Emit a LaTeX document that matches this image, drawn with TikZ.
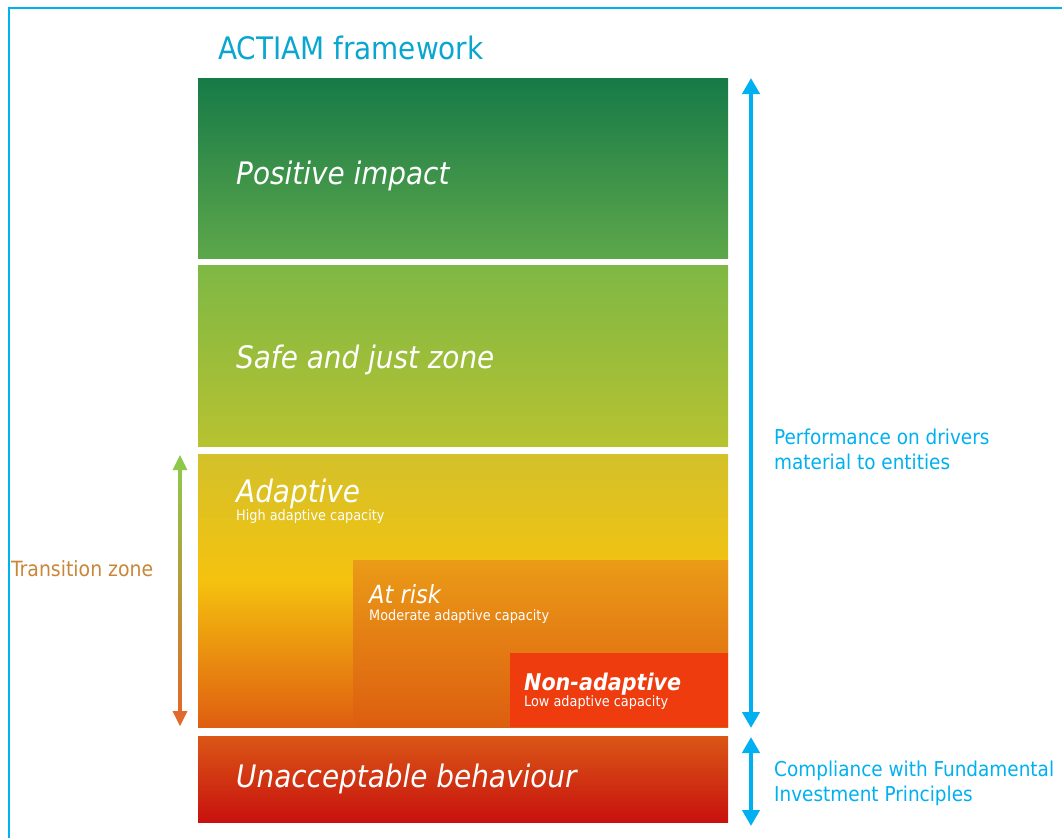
\documentclass[tikz,border=0pt]{standalone}
\usepackage{fontspec}
\setmainfont{DejaVu Sans Condensed}[
  ItalicFont={DejaVu Sans Condensed Oblique},
  BoldFont={DejaVu Sans Condensed Bold},
  BoldItalicFont={DejaVu Sans Condensed Bold Oblique}]
\usepackage{tikz}
\usetikzlibrary{positioning, calc, arrows.meta}

\definecolor{framecyan}{HTML}{00B2F0}
\definecolor{titlecyan}{HTML}{0AA6CF}
\definecolor{sidecyan}{HTML}{00B0F0}
\definecolor{posgreenA}{HTML}{167A48}
\definecolor{posgreenB}{HTML}{5DA74A}
\definecolor{safegreenA}{HTML}{7EB845}
\definecolor{safegreenB}{HTML}{B7C230}
\definecolor{adtop}{HTML}{D3C12A}
\definecolor{admid}{HTML}{F5C20F}
\definecolor{adbot}{HTML}{DF5E10}
\definecolor{riskA}{HTML}{EA9B17}
\definecolor{riskB}{HTML}{DD5E10}
\definecolor{nonred}{HTML}{EE3C0E}
\definecolor{unaccA}{HTML}{DA5716}
\definecolor{unaccB}{HTML}{C8110E}
\definecolor{trgreen}{HTML}{8DC84B}
\definecolor{trorange}{HTML}{E0692B}
\definecolor{trtext}{HTML}{C98638}

\pgfdeclareverticalshading{adaptshade}{100bp}{color(0bp)=(adbot); color(25bp)=(adbot); color(51.9bp)=(admid); color(75bp)=(adtop); color(100bp)=(adtop)}

\begin{document}
\begin{tikzpicture}[x=1pt, y=-1pt]
  \tikzstyle{zone}=[inner sep=0pt, outer sep=0pt, minimum width=530pt, anchor=north west]
  \tikzstyle{zonetitle}=[anchor=base west, inner sep=0pt, text=white, font=\itshape\fontsize{31}{31}\selectfont]
  \tikzstyle{zonesub}=[anchor=base west, inner sep=0pt, text=white, font=\fontsize{14.3}{14}\selectfont]
  \tikzstyle{sidetext}=[anchor=base west, inner sep=0pt, align=left, text=sidecyan, font=\fontsize{20.5}{25}\selectfont]
  \tikzstyle{bluearrow}=[{Triangle[width=17pt,length=16pt]}-{Triangle[width=17pt,length=16pt]}, draw=sidecyan, line width=4.5pt]
  \useasboundingbox (0,0) rectangle (1062,838);

  % frame
  \draw[framecyan, line width=2.2pt] (9,838) -- (9,8) -- (1062,8);
  \node (title) at (218,59) [anchor=base west, inner sep=0pt, text=titlecyan, font=\fontsize{31}{31}\selectfont] {ACTIAM framework};

  % zones
  \node (posbox) at (198,78) [zone, minimum height=180pt, top color=posgreenA, bottom color=posgreenB] {};
  \node (safebox) at (198,265) [zone, minimum height=181pt, top color=safegreenA, bottom color=safegreenB] {};
  \node (adaptbox) at (198,454) [zone, minimum height=273pt, shade, shading=adaptshade] {};
  \node (riskbox) at (353,560) [zone, minimum width=375pt, minimum height=167pt, top color=riskA, bottom color=riskB] {};
  \node (nonbox) at (510,653) [zone, minimum width=218pt, minimum height=74pt, fill=nonred] {};
  \node (unaccbox) at (198,736) [zone, minimum height=86pt, top color=unaccA, bottom color=unaccB] {};

  % zone labels
  \node (postext) at (236,184) [zonetitle] {Positive impact};
  \node (safetext) at (236,368) [zonetitle] {Safe and just zone};
  \node (adapttext) at (236,502) [zonetitle] {Adaptive};
  \node (adaptsub) at (236,520) [zonesub] {High adaptive capacity};
  \node (risktext) at (369,603) [zonetitle, font=\itshape\fontsize{25}{25}\selectfont] {At risk};
  \node (risksub) at (369,620) [zonesub] {Moderate adaptive capacity};
  \node (nontext) at (524,690) [zonetitle, font=\bfseries\itshape\fontsize{23}{24}\selectfont] {Non-adaptive};
  \node (nonsub) at (524,706) [zonesub] {Low adaptive capacity};
  \node (unacctext) at (236,787) [zonetitle] {Unacceptable behaviour};

  % performance arrows
  \coordinate (perftop) at ($(posbox.north east)+(23,0)$);
  \coordinate (perfbot) at ($(adaptbox.south east)+(23,1)$);
  \coordinate (comptop) at ($(unaccbox.north east)+(23,1)$);
  \coordinate (compbot) at ($(unaccbox.south east)+(23,4)$);
  \draw[bluearrow] (perftop) -- (perfbot);
  \draw[bluearrow] (comptop) -- (compbot);
  \node (perftext) at (774,469) [sidetext] {Performance on drivers\\material to entities};
  \node (comptext) at (774,801) [sidetext] {Compliance with Fundamental\\Investment Principles};

  % transition zone
  \coordinate (trtop) at (180,455);
  \coordinate (trbot) at (180,726);
  \shade[top color=trgreen, bottom color=trorange] ($(trtop)+(-1.6,14)$) rectangle ($(trbot)+(1.6,-14)$);
  \fill[trgreen] (trtop) -- ++(-7.5,15) -- ++(15,0) -- cycle;
  \fill[trorange] (trbot) -- ++(-7.5,-15) -- ++(15,0) -- cycle;
  \node (trtext) at (11,576) [anchor=base west, inner sep=0pt, text=trtext, font=\fontsize{21}{25}\selectfont] {Transition zone};
\end{tikzpicture}
\end{document}
